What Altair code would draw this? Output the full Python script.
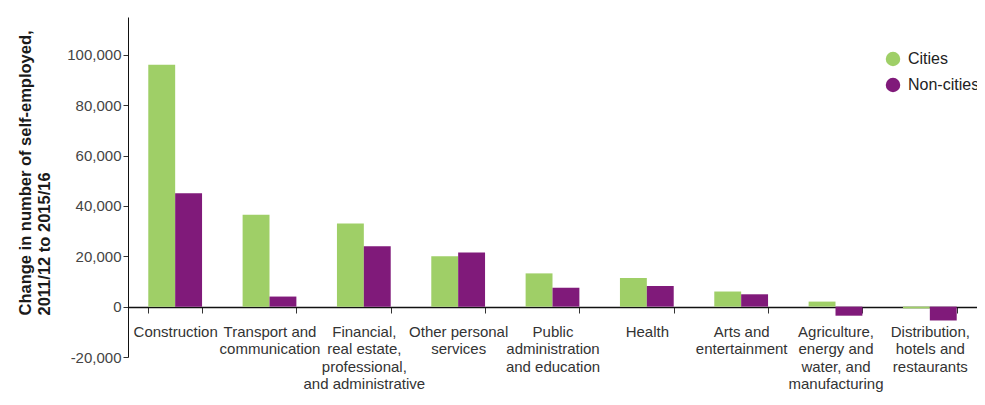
import altair as alt
import pandas as pd

categories = [
    "Construction",
    "Transport and|communication",
    "Financial,|real estate,|professional,|and administrative|activities",
    "Other personal|services",
    "Public|administration|and education",
    "Health",
    "Arts and|entertainment",
    "Agriculture,|energy and|water, and|manufacturing",
    "Distribution,|hotels and|restaurants",
]
cities = [96000, 36500, 33000, 20000, 13200, 11400, 6000, 2000, -700]
non_cities = [45000, 4000, 24000, 21500, 7500, 8200, 4900, -3600, -5500]
series = ["Cities", "Non-cities"]
colors = ["#9fcf67", "#801a7a"]
y_ticks = [-20000, 0, 20000, 40000, 60000, 80000, 100000]

rows = []
for c, a, b in zip(categories, cities, non_cities):
    rows.append({"category": c, "series": "Cities", "value": a})
    rows.append({"category": c, "series": "Non-cities", "value": b})
df = pd.DataFrame(rows)

FONT = "Liberation Sans"

chart = alt.Chart(df).mark_bar().encode(
    x=alt.X(
        "category:N",
        sort=categories,
        scale=alt.Scale(paddingInner=0.43, paddingOuter=0.215),
        axis=alt.Axis(
            title=None,
            labelAngle=0,
            labelExpr="split(datum.label, '|')",
            labelAlign="center",
            labelBaseline="top",
            labelFont=FONT,
            labelFontSize=15,
            labelColor="#333333",
            labelLineHeight=17.5,
            labelPadding=11,
            labelOverlap=False,
            tickBand="extent",
            tickSize=6,
            tickColor="#333333",
            domainColor="#111111",
            domainWidth=1.5,
            offset=-50,
        ),
    ),
    xOffset=alt.XOffset("series:N", sort=series),
    y=alt.Y(
        "value:Q",
        scale=alt.Scale(domain=[-20000, 115000], nice=False, zero=False),
        axis=alt.Axis(
            values=y_ticks,
            labelExpr="(datum.value < 0 ? '-' : '') + format(abs(datum.value), ',')",
            grid=False,
            labelFont=FONT,
            labelFontSize=15,
            labelColor="#444444",
            labelPadding=2,
            tickSize=5,
            tickColor="#333333",
            domainColor="#111111",
            domainWidth=1,
            title=["Change in number of self-employed,", "2011/12 to 2015/16"],
            titleFont=FONT,
            titleFontSize=16.5,
            titleFontWeight="bold",
            titleColor="#1a1a1a",
            titleAngle=270,
            titleAlign="left",
            titleBaseline="alphabetic",
            titleLineHeight=19,
            titleX=-98,
            titleY=298,
        ),
    ),
    color=alt.Color(
        "series:N",
        sort=series,
        scale=alt.Scale(domain=series, range=colors),
        legend=alt.Legend(
            title=None,
            orient="none",
            legendX=757,
            legendY=34,
            symbolType="circle",
            symbolSize=210,
            symbolStrokeWidth=0,
            labelFont=FONT,
            labelFontSize=16,
            labelColor="#222222",
            labelOffset=7,
            rowPadding=10,
        ),
    ),
).properties(
    width=849,
    height=340,
    autosize=alt.AutoSizeParams(type="none"),
    padding={"left": 120, "top": 9, "right": 0, "bottom": 36},
).configure_view(stroke=None)

chart.save("out.html", embed_options={"renderer": "svg", "actions": False})
